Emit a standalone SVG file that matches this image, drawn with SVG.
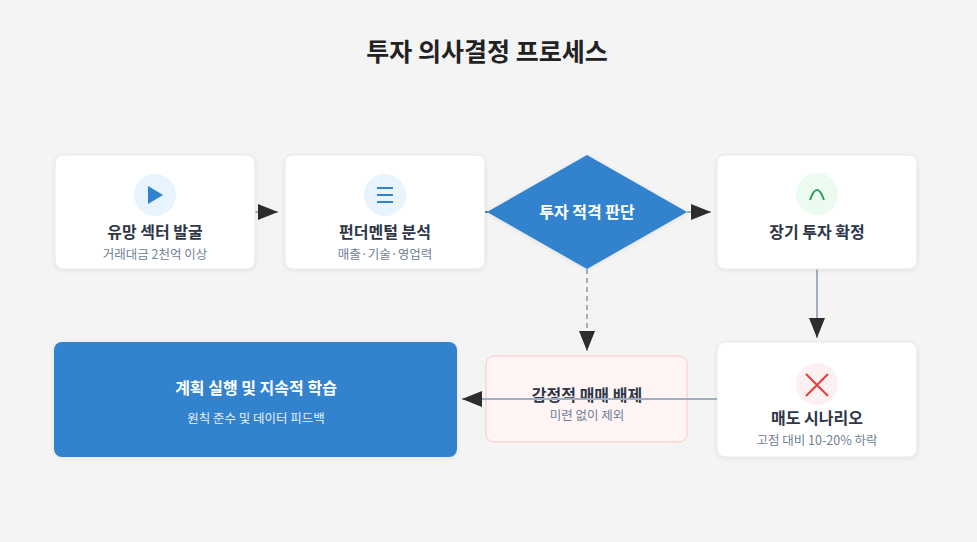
<svg xmlns="http://www.w3.org/2000/svg" width="977" height="542" viewBox="0 0 977 542">
<defs>
<marker id="ah" viewBox="0 0 10 10" refX="9" refY="5" markerWidth="7" markerHeight="7" markerUnits="userSpaceOnUse" orient="auto"><path d="M0,0 L10,5 L0,10 z" fill="#333"/></marker>
<marker id="ab" viewBox="0 0 20 16" refX="20" refY="8" markerWidth="20" markerHeight="16" markerUnits="userSpaceOnUse" orient="auto"><path d="M0,0 L20,8 L0,16 z" fill="#2d2d2d"/></marker>
<filter id="sh" x="-10%" y="-10%" width="120%" height="130%"><feDropShadow dx="0" dy="1" stdDeviation="2" flood-color="#000" flood-opacity="0.08"/></filter>
</defs>
<style>
text{font-family:"Noto Sans CJK KR","Noto Sans",sans-serif;text-anchor:middle}
.card{fill:#fff;stroke:#e3e8ef;stroke-width:1;filter:url(#sh)}
.t{font-size:16px;font-weight:700;fill:#2d3748}
.s{font-size:12.5px;fill:#718096}
.c{stroke:#a0aec0;stroke-width:2;fill:none}
</style>
<rect width="977" height="542" fill="#f4f4f5"/>
<text x="487" y="61" style="font-size:25px;font-weight:700;fill:#222">투자 의사결정 프로세스</text>
<g id="connectors">
<line class="c" x1="255" y1="212" x2="278" y2="212" marker-end="url(#ab)"/>
<line class="c" x1="485" y1="212" x2="488" y2="212" marker-end="url(#ab)"/>
<line class="c" x1="687" y1="212" x2="711" y2="212" marker-end="url(#ab)"/>
<line class="c" x1="817" y1="269" x2="817" y2="338" marker-end="url(#ab)"/>
<line class="c" x1="587" y1="269" x2="587" y2="351" stroke-dasharray="5,4" stroke-width="1.5" marker-end="url(#ab)"/>
</g>
<g id="n1"><rect class="card" x="55" y="155" width="200" height="114" rx="8"/><circle cx="155" cy="195" r="21" fill="#e8f4fd"/><path d="M148,186 L163,195 L148,204 z" fill="#3182ce"/><text class="t" x="155" y="238">유망 섹터 발굴</text><text class="s" x="155" y="259">거래대금 2천억 이상</text></g>
<g id="n2"><rect class="card" x="285" y="155" width="200" height="114" rx="8"/><circle cx="385" cy="195" r="21" fill="#e8f4fd"/><path d="M377,188 H393 M377,195 H393 M377,202 H393" stroke="#3182ce" stroke-width="2"/><text class="t" x="385" y="238">펀더멘털 분석</text><text class="s" x="385" y="259">매출·기술·영업력</text></g>
<g id="n3"><path d="M587,155 L687,212 L587,269 L487,212 z" fill="#3182ce" filter="url(#sh)"/><text class="t" x="587" y="218" style="fill:#fff">투자 적격 판단</text></g>
<g id="n4"><rect class="card" x="717" y="155" width="200" height="114" rx="8"/><circle cx="817" cy="194" r="21" fill="#ebfbf0"/><path d="M810,200 Q817,180 824,200" stroke="#2f9e5a" stroke-width="2" fill="none"/><text class="t" x="817" y="238">장기 투자 확정</text></g>
<g id="n5"><rect class="card" x="717" y="342" width="200" height="115" rx="8"/><circle cx="817" cy="384" r="21" fill="#fdf0f0"/><path d="M806,374 L828,396 M828,374 L806,396" stroke="#e53e3e" stroke-width="2"/><text class="t" x="817" y="424">매도 시나리오</text><text class="s" x="817" y="445">고점 대비 10-20% 하락</text></g>
<g id="n6"><rect x="486" y="356" width="201" height="86" rx="8" fill="#fff5f5" stroke="#fcc5c5"/><text class="t" x="587" y="401">감정적 매매 배제</text><text class="s" x="587" y="420">미련 없이 제외</text></g>
<g id="n7"><rect x="54" y="342" width="403" height="115" rx="8" fill="#3182ce" filter="url(#sh)"/><text class="t" x="256" y="394" style="fill:#fff">계획 실행 및 지속적 학습</text><text class="s" x="256" y="423" style="fill:#e6f0fa">원칙 준수 및 데이터 피드백</text></g>
<g id="connectors-over"><line class="c" x1="717" y1="399" x2="462" y2="399" marker-end="url(#ab)"/></g>
</svg>
